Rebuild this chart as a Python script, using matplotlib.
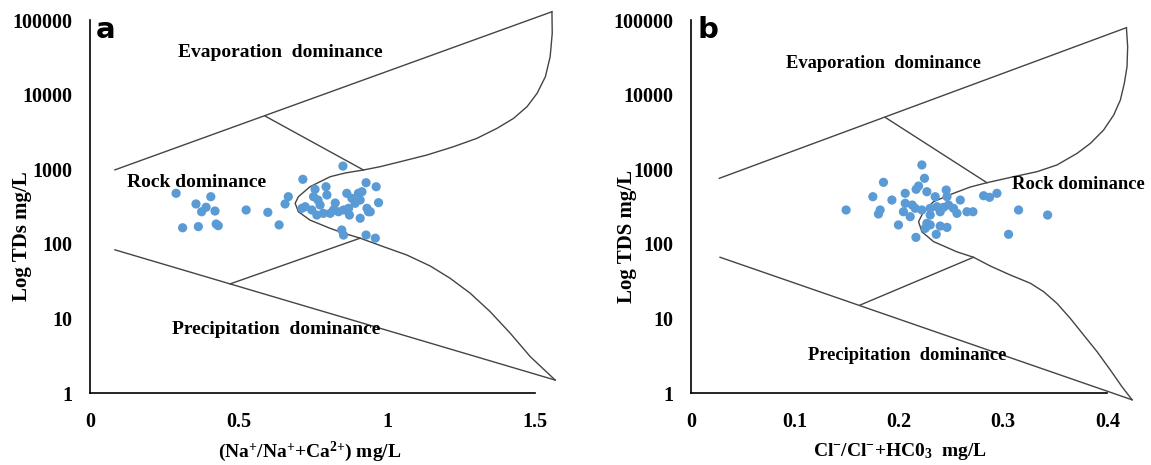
import numpy as np
import matplotlib
matplotlib.use('Agg')
import matplotlib.pyplot as plt

plt.rcParams['font.family'] = ['Liberation Serif', 'DejaVu Serif']
plt.rcParams['font.weight'] = 'bold'
plt.rcParams['axes.labelweight'] = 'bold'
plt.rcParams['mathtext.fontset'] = 'custom'
plt.rcParams['mathtext.rm'] = 'Liberation Serif:bold'
plt.rcParams['mathtext.it'] = 'Liberation Serif:bold'
plt.rcParams['mathtext.bf'] = 'Liberation Serif:bold'

# ---- panel a : Na/(Na+Ca) vs TDS ----
a_x = [0.290, 0.357, 0.407, 0.391, 0.376, 0.421, 0.312, 0.365, 0.425, 0.432,
       0.526, 0.599, 0.637, 0.657, 0.668, 0.717, 0.852, 0.930, 0.964, 0.972,
       0.938, 0.848, 0.854, 0.930, 0.961, 0.758, 0.795, 0.798, 0.753, 0.725,
       0.775, 0.786, 0.764, 0.820, 0.837, 0.854, 0.871, 0.882, 0.904, 0.916,
       0.910, 0.893, 0.933, 0.944, 0.910, 0.874, 0.809, 0.747, 0.865, 0.714,
       0.768, 0.826]
a_tds = [475, 342, 428, 309, 269, 275, 164, 170, 184, 175,
         284, 264, 179, 342, 428, 732, 1100, 659, 582, 356,
         269, 153, 131, 131, 119, 538, 582, 451, 428, 314,
         331, 256, 243, 284, 269, 284, 299, 407, 475, 499,
         386, 349, 299, 269, 220, 243, 256, 284, 475, 299,
         386, 352]

# Gibbs boundary curve
a_curve_x = [1.556, 1.557, 1.550, 1.534, 1.506, 1.472, 1.427, 1.371, 1.303, 1.224,
             1.135, 1.045, 0.977, 0.921, 0.859, 0.809, 0.741, 0.702, 0.691, 0.702,
             0.741, 0.809, 0.859, 0.910, 0.9885, 1.067, 1.146, 1.213, 1.281, 1.348,
             1.416, 1.483, 1.567]
a_curve_tds = [129000, 66300, 32200, 17400, 10400, 6880, 4810, 3530, 2590, 2000,
               1550, 1260, 1080, 976, 889, 793, 582, 428, 349, 269,
               208, 161, 137, 119, 91.5, 70.8, 50.4, 34.5, 21.7, 12.3,
               6.3, 3.07, 1.49]
a_upper_x, a_upper_tds = [0.084, 1.556], [980, 129000]
a_lower_x, a_lower_tds = [0.084, 1.567], [83, 1.49]
a_inup_x, a_inup_tds = [0.590, 0.921], [5150, 976]
a_inlo_x, a_inlo_tds = [0.472, 0.910], [29, 119]

# ---- panel b : Cl/(Cl+HCO3) vs TDS ----
b_x = [0.2218, 0.1849, 0.2243, 0.2186, 0.2266, 0.2058, 0.1747, 0.2163, 0.2452, 0.2346,
       0.2459, 0.2811, 0.2868, 0.2939, 0.1490, 0.1817, 0.1801, 0.2058, 0.2041, 0.2154,
       0.2218, 0.2298, 0.2363, 0.2426, 0.2474, 0.2522, 0.2555, 0.2394, 0.2298, 0.2106,
       0.2651, 0.2709, 0.3147, 0.3426, 0.1993, 0.2266, 0.2298, 0.2394, 0.2459, 0.2250,
       0.2356, 0.2161, 0.3051, 0.2125, 0.2587, 0.1930]
b_tds = [1140, 667, 755, 595, 499, 475, 428, 538, 526, 428,
         428, 441, 420, 475, 284, 284, 251, 349, 269, 299,
         284, 299, 314, 308, 331, 299, 256, 269, 243, 231,
         269, 269, 284, 243, 179, 188, 179, 173, 166, 161,
         134, 122, 134, 331, 386, 386]

b_curve_x = [0.4183, 0.4195, 0.4189, 0.4163, 0.4125, 0.4061, 0.3964, 0.3837, 0.3709, 0.3516,
             0.3324, 0.3099, 0.2843, 0.2683, 0.2522, 0.2330, 0.2234, 0.2186, 0.2218, 0.2330,
             0.2555, 0.2714, 0.2875, 0.3067, 0.3260, 0.3388, 0.3516, 0.3644, 0.3772, 0.3901,
             0.4029, 0.4141, 0.4238]
b_curve_tds = [78900, 43900, 23700, 14200, 8470, 5330, 3350, 2220, 1630, 1140,
               926, 793, 659, 577, 475, 367, 269, 198, 145, 107,
               78, 66, 50.4, 38.2, 29.6, 22.8, 15.9, 10.0, 5.99, 3.58,
               2.03, 1.21, 0.81]
b_upper_x, b_upper_tds = [0.0272, 0.4183], [755, 78900]
b_lower_x, b_lower_tds = [0.0279, 0.4238], [66, 0.81]
b_inup_x, b_inup_tds = [0.1865, 0.2843], [4960, 659]
b_inlo_x, b_inlo_tds = [0.1625, 0.2714], [15.1, 66]

y_ticks = [1, 10, 100, 1000, 10000, 100000]

fig = plt.figure(figsize=(11.51, 4.65), dpi=100)
ax_a = fig.add_axes([90 / 1151, 72 / 465, 475 / 1151, 373 / 465])
ax_b = fig.add_axes([691 / 1151, 72 / 465, 458 / 1151, 373 / 465])

line_kw = dict(color='#444444', lw=1.0, clip_on=False)
dot_kw = dict(s=44, color='#5b9bd5', edgecolors='none', zorder=3, clip_on=False)

for ax, parts in [
    (ax_a, [(a_curve_x, a_curve_tds), (a_upper_x, a_upper_tds), (a_lower_x, a_lower_tds),
            (a_inup_x, a_inup_tds), (a_inlo_x, a_inlo_tds)]),
    (ax_b, [(b_curve_x, b_curve_tds), (b_upper_x, b_upper_tds), (b_lower_x, b_lower_tds),
            (b_inup_x, b_inup_tds), (b_inlo_x, b_inlo_tds)]),
]:
    for xs, ys in parts:
        ax.plot(xs, ys, **line_kw)

ax_a.scatter(a_x, a_tds, **dot_kw)
ax_b.scatter(b_x, b_tds, **dot_kw)

for ax in (ax_a, ax_b):
    ax.set_yscale('log')
    ax.set_ylim(1, 100000)
    ax.set_yticks(y_ticks)
    ax.set_yticklabels([str(t) for t in y_ticks])
    ax.minorticks_off()
    ax.tick_params(axis='both', length=0, labelsize=14.5)
    ax.tick_params(axis='y', pad=13)
    ax.tick_params(axis='x', pad=14)
    ax.spines['top'].set_visible(False)
    ax.spines['right'].set_visible(False)
    for s in ('left', 'bottom'):
        ax.spines[s].set_linewidth(1.2)
    ax.patch.set_alpha(0)

ax_a.set_xlim(0, 1.6)
ax_a.set_xticks([0, 0.5, 1, 1.5])
ax_a.set_xticklabels(['0', '0.5', '1', '1.5'])
ax_a.spines['bottom'].set_bounds(0, 1.5)
ax_b.set_xlim(0, 0.44)
ax_b.set_xticks([0, 0.1, 0.2, 0.3, 0.4])
ax_b.set_xticklabels(['0', '0.1', '0.2', '0.3', '0.4'])
ax_b.spines['bottom'].set_bounds(0, 0.4)

ax_a.set_ylabel('Log TDs mg/L', fontsize=15, fontweight='bold')
ax_a.yaxis.set_label_coords(-58 / 475, 0.42)
ax_b.set_ylabel('Log TDS mg/L', fontsize=15, fontweight='bold')
ax_b.yaxis.set_label_coords(-54 / 458, 0.42)
ax_a.set_xlabel(r'(Na$^{+}$/Na$^{+}$+Ca$^{2{+}}$) mg/L', fontsize=14,
                fontweight='bold', va='center')
ax_a.xaxis.set_label_coords(220 / 475, -59 / 373)
ax_b.set_xlabel(r'Cl$^{-}$/Cl$^{-}$+HC0$_{3}$  mg/L', fontsize=14,
                fontweight='bold', va='center')
ax_b.xaxis.set_label_coords(209 / 458, -58 / 373)

txt = dict(fontweight='bold', ha='left', va='center', zorder=4)
ax_a.text(0.297, 37200, 'Evaporation  dominance', fontsize=14, **txt)
ax_a.text(0.125, 673, 'Rock dominance', fontsize=14, **txt)
ax_a.text(0.276, 7.0, 'Precipitation  dominance', fontsize=14, **txt)
ax_b.text(0.0913, 26500, 'Evaporation  dominance', fontsize=13.3, **txt)
ax_b.text(0.3087, 632, 'Rock dominance', fontsize=13.3, **txt)
ax_b.text(0.1125, 3.2, 'Precipitation  dominance', fontsize=13.3, **txt)

fig.text(96 / 1151, 1 - 30 / 465, 'a', family='DejaVu Sans', fontsize=21,
         fontweight='bold', va='center')
fig.text(697 / 1151, 1 - 30 / 465, 'b', family='DejaVu Sans', fontsize=21,
         fontweight='bold', va='center')

plt.savefig('out.png', dpi=100)
